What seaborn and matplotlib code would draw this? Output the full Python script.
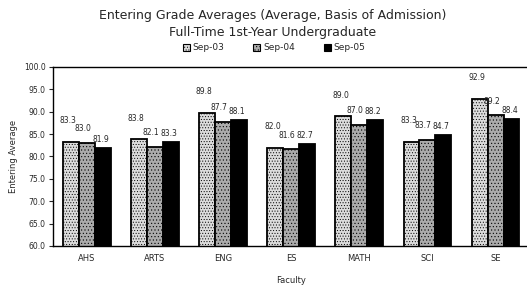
import pandas as pd
import matplotlib.pyplot as plt
import seaborn as sns

sns.set_theme(style="white")
plt.rcParams['font.family'] = ['DejaVu Sans']
plt.rcParams['hatch.linewidth'] = 0.4
plt.rcParams['hatch.color'] = '#555555'

faculties = ['AHS', 'ARTS', 'ENG', 'ES', 'MATH', 'SCI', 'SE']
terms = ['Sep-03', 'Sep-04', 'Sep-05']
sep03 = [83.3, 83.8, 89.8, 82.0, 89.0, 83.3, 92.9]
sep04 = [83.0, 82.1, 87.7, 81.6, 87.0, 83.7, 89.2]
sep05 = [81.9, 83.3, 88.1, 82.7, 88.2, 84.7, 88.4]

df = pd.DataFrame({'Faculty': faculties * 3,
                   'term': [t for t in terms for _ in faculties],
                   'avg': sep03 + sep04 + sep05})

fig = plt.figure(figsize=(5.27, 2.85), dpi=100)
ax = fig.add_axes([0.1, 0.137, 0.905, 0.628])

colors = ['#dcdcdc', '#ababab', '#000000']
sns.barplot(data=df, x='Faculty', y='avg', hue='term', palette=colors,
            width=0.7, edgecolor='black', linewidth=1.3, ax=ax, legend=False)

# staggered value labels, nudged left like the original
hatches = ['......', '.....', '']
pads = [12, 7, 3]
shifts = [-2, -3, -1.5]
for cont, h, p, dx in zip(ax.containers, hatches, pads, shifts):
    for bar in cont:
        bar.set_hatch(h)
    for ann in ax.bar_label(cont, fmt='%.1f', padding=p, fontsize=5.5):
        ann.xyann = (dx, p)

ax.set_ylim(60, 100)
ax.set_yticks(range(60, 101, 5))
ax.set_yticklabels([f'{v:.1f}' for v in range(60, 101, 5)], fontsize=5.5)
ax.tick_params(axis='x', labelsize=6, length=0, pad=6)
ax.tick_params(axis='y', length=3, width=0.8, left=True, pad=2)
ax.set_xlabel('Faculty', fontsize=6, labelpad=9)
ax.set_ylabel('Entering Average', fontsize=6, labelpad=4)
for side in ['left', 'bottom', 'top']:
    ax.spines[side].set_color('black')
    ax.spines[side].set_linewidth(1)
ax.spines['right'].set_visible(False)

fig.text(0.517, 0.933, 'Entering Grade Averages (Average, Basis of Admission)',
         ha='center', fontsize=9)
fig.text(0.517, 0.874, 'Full-Time 1st-Year Undergraduate', ha='center', fontsize=9)

handles = [plt.Rectangle((0, 0), 1, 1, facecolor=c, edgecolor='black', hatch=h, linewidth=0.8)
           for c, h in zip(colors, hatches)]
fig.legend(handles, terms, loc='center', bbox_to_anchor=(0.52, 0.832), ncol=3,
           frameon=False, fontsize=6.5, handlelength=0.8, handleheight=0.8,
           handletextpad=0.3, columnspacing=3.2)

fig.savefig('out.png', dpi=100)
